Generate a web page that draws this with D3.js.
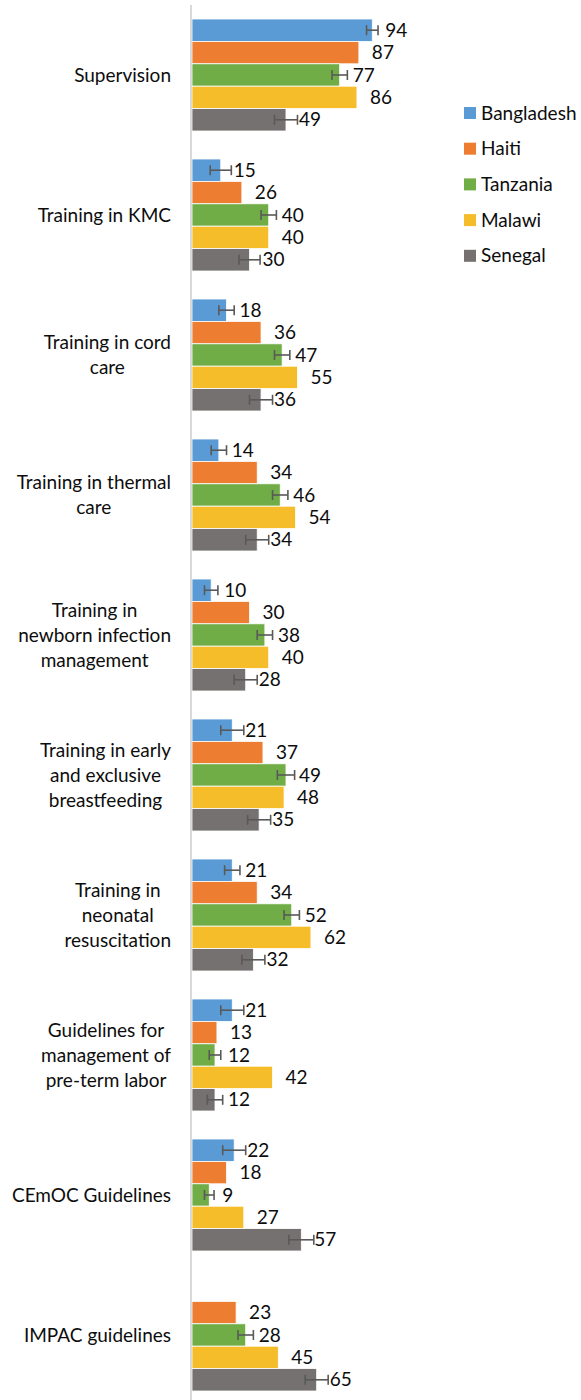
<!DOCTYPE html>
<html>
<head>
<meta charset="utf-8">
<script src="https://cdn.jsdelivr.net/npm/d3@7"></script>
<style>
    body { margin: 0; background: #fff; }
    svg text { font-family: Lato, "Open Sans", sans-serif; fill: #0d0d0d; }
</style>
</head>
<body>
<div class="chart"></div>
<script>
'use strict';

var categories = [
    ['Supervision'],
    ['Training in KMC'],
    ['Training in cord', 'care'],
    ['Training in thermal', 'care'],
    ['Training in', 'newborn infection', 'management'],
    ['Training in early', 'and exclusive', 'breastfeeding'],
    ['Training in', 'neonatal', 'resuscitation'],
    ['Guidelines for', 'management of', 'pre-term labor'],
    ['CEmOC Guidelines'],
    ['IMPAC guidelines']
];
var series = ['Bangladesh', 'Haiti', 'Tanzania', 'Malawi', 'Senegal'];
var colors = ['#5b9bd5', '#ed7d31', '#70ad47', '#f6bd2b', '#767171'];

// values per series, one per category (null = no bar)
var bangladesh = [94, 15, 18, 14, 10, 21, 21, 21, 22, null];
var haiti      = [87, 26, 36, 34, 30, 37, 34, 13, 18, 23];
var tanzania   = [77, 40, 47, 46, 38, 49, 52, 12, 9, 28];
var malawi     = [86, 40, 55, 54, 40, 48, 62, 42, 27, 45];
var senegal    = [49, 30, 36, 34, 28, 35, 32, 12, 57, 65];

// error bar half-widths (null = no error bar)
var errBangladesh = [3, 5.5, 4, 4, 3.5, 6, 4, 6, 6, null];
var errHaiti      = [null, null, null, null, null, null, null, null, null, null];
var errTanzania   = [4, 4, 4, 4, 4, 4.5, 4, 3, 2.5, 4];
var errMalawi     = [null, null, null, null, null, null, null, null, null, null];
var errSenegal    = [6, 5.5, 6, 6, 6, 6, 6, 4, 6.5, 6];

var values = [bangladesh, haiti, tanzania, malawi, senegal];
var errors = [errBangladesh, errHaiti, errTanzania, errMalawi, errSenegal];

var width = 581;
var height = 1400;
var axisX = 192;
var fontSize = 19;

var svg = d3.select('.chart')
    .append('svg')
    .attr('width', width)
    .attr('height', height);

var x = d3.scaleLinear()
    .domain([0, 100])
    .range([axisX, axisX + 191.8]);

var y = d3.scaleBand()
    .domain(d3.range(categories.length))
    .range([5, 1405]);

var ySeries = d3.scaleBand()
    .domain(d3.range(series.length))
    .range([14, 126]);

// flatten into bar records
var bars = [];
categories.forEach(function (c, ci) {
    series.forEach(function (s, si) {
        if (values[si][ci] !== null) {
            bars.push({ ci: ci, si: si, value: values[si][ci], err: errors[si][ci] });
        }
    });
});

var groups = svg.append('g');

groups.selectAll('rect')
    .data(bars)
    .enter()
    .append('rect')
    .attr('x', x(0))
    .attr('y', function (d) { return y(d.ci) + ySeries(d.si); })
    .attr('width', function (d) { return x(d.value) - x(0); })
    .attr('height', ySeries.bandwidth())
    .attr('fill', function (d) { return colors[d.si]; })
    .attr('stroke', '#ffffff')
    .attr('stroke-width', 0.8);

// error bars
var errBars = bars.filter(function (d) { return d.err !== null; });
var eb = groups.selectAll('g.err')
    .data(errBars)
    .enter()
    .append('g')
    .attr('class', 'err')
    .attr('stroke', '#595959')
    .attr('stroke-width', 1.6);

function midY(d) {
    return y(d.ci) + ySeries(d.si) + ySeries.bandwidth() / 2;
}

eb.append('line')
    .attr('x1', function (d) { return x(d.value - d.err); })
    .attr('x2', function (d) { return x(d.value + d.err); })
    .attr('y1', midY)
    .attr('y2', midY);

[-1, 1].forEach(function (sign) {
    eb.append('line')
        .attr('x1', function (d) { return x(d.value + sign * d.err); })
        .attr('x2', function (d) { return x(d.value + sign * d.err); })
        .attr('y1', function (d) { return midY(d) - 5; })
        .attr('y2', function (d) { return midY(d) + 5; });
});

// data labels
groups.selectAll('text.val')
    .data(bars)
    .enter()
    .append('text')
    .attr('class', 'val')
    .attr('x', function (d) { return x(d.value) + 13; })
    .attr('y', midY)
    .attr('dy', '0.35em')
    .attr('font-size', fontSize)
    .text(function (d) { return d.value; });

// vertical axis line
svg.append('line')
    .attr('x1', axisX - 1)
    .attr('x2', axisX - 1)
    .attr('y1', 5)
    .attr('y2', height)
    .attr('stroke', '#d9d9d9')
    .attr('stroke-width', 2);

// category labels: block right-aligned at 171, lines centered within
var lineH = 25;
var catG = svg.append('g');
categories.forEach(function (lines, ci) {
    var g = catG.append('g');
    var cy = y(ci) + y.bandwidth() / 2;
    var t0 = cy - (lines.length - 1) * lineH / 2;
    var texts = lines.map(function (line, li) {
        return g.append('text')
            .attr('y', t0 + li * lineH)
            .attr('dy', '0.35em')
            .attr('font-size', fontSize)
            .attr('text-anchor', 'middle')
            .text(line);
    });
    var maxW = d3.max(texts, function (t) { return t.node().getComputedTextLength(); });
    texts.forEach(function (t) { t.attr('x', 171 - maxW / 2); });
});

// legend
var legend = svg.append('g')
    .attr('transform', 'translate(464,113)');

var item = legend.selectAll('g')
    .data(series)
    .enter()
    .append('g')
    .attr('transform', function (d, i) { return 'translate(0,' + (i * 35.7) + ')'; });

item.append('rect')
    .attr('x', 0)
    .attr('y', -6)
    .attr('width', 12)
    .attr('height', 12)
    .attr('fill', function (d, i) { return colors[i]; });

item.append('text')
    .attr('x', 17)
    .attr('dy', '0.35em')
    .attr('font-size', fontSize)
    .text(function (d) { return d; });
</script>
</body>
</html>
